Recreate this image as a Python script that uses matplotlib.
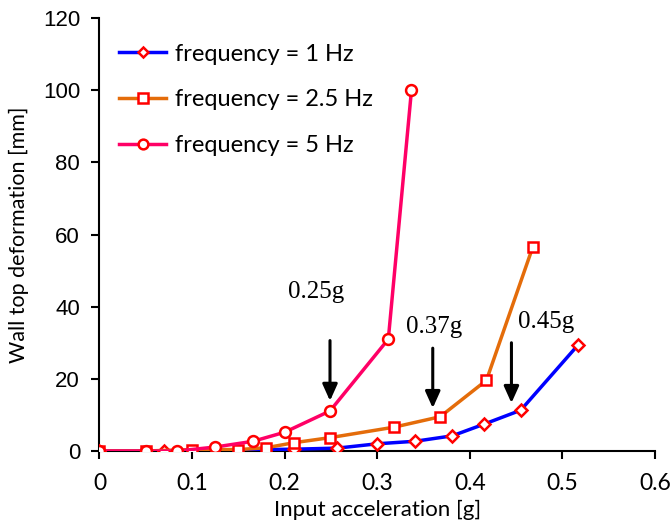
import matplotlib
matplotlib.use("Agg")
import matplotlib.pyplot as plt

# Data
acc_1hz = [0, 0.07, 0.21, 0.257, 0.30, 0.341, 0.381, 0.415, 0.455, 0.517]
def_1hz = [0, 0, 0.5, 0.8, 2.0, 2.7, 4.2, 7.4, 11.3, 29.4]

acc_25hz = [0, 0.05, 0.10, 0.15, 0.18, 0.21, 0.249, 0.318, 0.368, 0.418, 0.468]
def_25hz = [0, 0, 0.4, 0.4, 0.9, 2.3, 3.7, 6.6, 9.5, 19.6, 56.5]

acc_5hz = [0, 0.05, 0.084, 0.125, 0.166, 0.20, 0.249, 0.312, 0.337]
def_5hz = [0, 0, 0, 1.1, 2.7, 5.2, 11.1, 31, 100]

labels = ["frequency = 1 Hz", "frequency = 2.5 Hz", "frequency = 5 Hz"]
xticks = [0, 0.1, 0.2, 0.3, 0.4, 0.5, 0.6]
xtick_labels = ["0", "0.1", "0.2", "0.3", "0.4", "0.5", "0.6"]
yticks = [0, 20, 40, 60, 80, 100, 120]

annot_text = ["0.25g", "0.37g", "0.45g"]
annot_text_xy = [(0.234, 42.4), (0.362, 32.7), (0.482, 34.0)]
arrow_x = [0.249, 0.360, 0.445]
arrow_top = [30.6, 28.5, 30.0]
arrow_tip = [13.9, 11.9, 13.3]

fig = plt.figure(figsize=(6.7, 5.24), dpi=100)
ax = fig.add_axes([0.1485, 0.1393, 0.829, 0.8263])

ax.plot(acc_1hz, def_1hz, color="#0000FF", lw=2.5, marker="D", ms=5.8,
        mfc="white", mec="#FF0000", mew=1.8, label=labels[0], zorder=3)
ax.plot(acc_25hz, def_25hz, color="#E46C0A", lw=2.5, marker="s", ms=7.8,
        mfc="white", mec="#FF0000", mew=1.8, label=labels[1], zorder=4)
ax.plot(acc_5hz, def_5hz, color="#FF0066", lw=2.5, marker="o", ms=7.8,
        mfc="white", mec="#FF0000", mew=1.8, label=labels[2], zorder=5)

for t, (tx, ty), xa, yt, yh in zip(annot_text, annot_text_xy, arrow_x, arrow_top, arrow_tip):
    ax.text(tx, ty, t, ha="center", va="baseline", fontsize=18,
            family="Liberation Serif", color="black")
    ax.annotate("", xy=(xa, yh), xytext=(xa, yt),
                arrowprops=dict(arrowstyle="-|>,head_width=0.45,head_length=1.0",
                                color="black", lw=2.2, shrinkA=0, shrinkB=0))

ax.set_xlim(0, 0.6)
ax.set_ylim(0, 120)
ax.set_xticks(xticks)
ax.set_xticklabels(xtick_labels, fontsize=16.5, family="Lato")
ax.set_yticks(yticks)
ax.set_yticklabels([str(v) for v in yticks], fontsize=16, family="Liberation Sans")
ax.tick_params(direction="out", length=6, width=1.5)
ax.tick_params(axis="x", pad=10)
ax.tick_params(axis="y", pad=8)
ax.spines["top"].set_visible(False)
ax.spines["right"].set_visible(False)
for s in ["left", "bottom"]:
    ax.spines[s].set_linewidth(1.5)
ax.set_xlabel("Input acceleration [g]", fontsize=16, family="Lato", labelpad=4)
ax.set_ylabel("Wall top deformation [mm]", fontsize=15.5, family="Lato", labelpad=10)

leg = ax.legend(loc="upper left", bbox_to_anchor=(-0.003, 0.99), frameon=False,
                prop={"family": "Lato", "size": 17}, handlelength=2.0,
                handletextpad=0.35, labelspacing=1.05, markerscale=0.9)

fig.savefig("out.png", dpi=100)
